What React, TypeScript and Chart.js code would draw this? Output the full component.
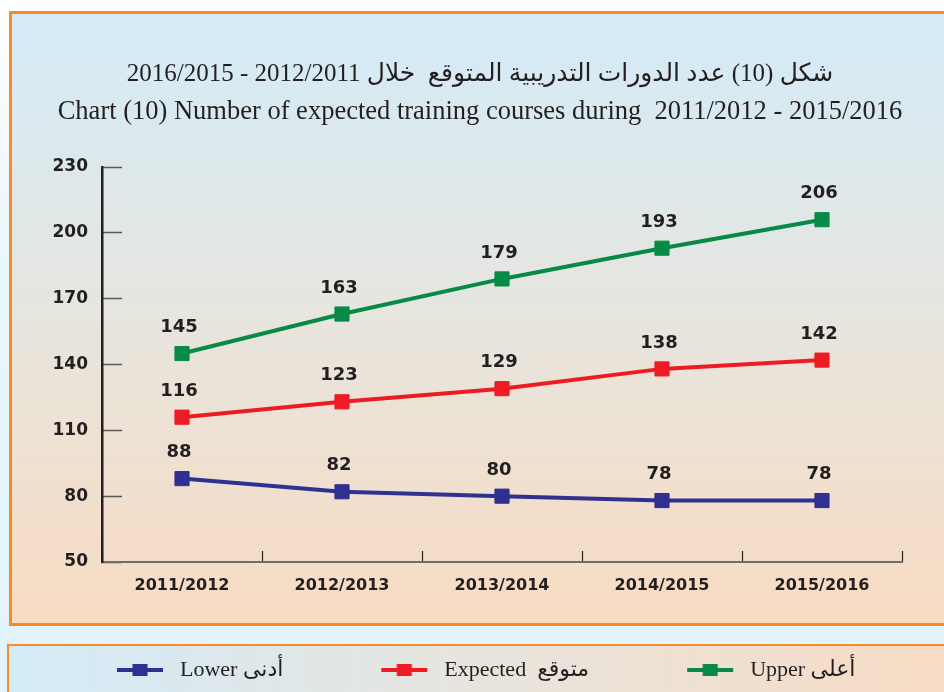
import { useEffect, useRef } from "react";
import { Chart, registerables } from "chart.js";

Chart.register(...registerables);

const categories = ["2011/2012", "2012/2013", "2013/2014", "2014/2015", "2015/2016"];
const lowerValues = [88, 82, 80, 78, 78];
const expectedValues = [116, 123, 129, 138, 142];
const upperValues = [145, 163, 179, 193, 206];
const seriesNames = ["Lower أدنى", "Expected  متوقع", "Upper أعلى"];
const seriesColors = ["#2e3192", "#ed1c24", "#078a45"];
const yTickMin = 50;
const yTickMax = 230;
const yTickStep = 30;
const titleArabic = "2016/2015 - 2012/2011 " + "شكل (10) عدد الدورات التدريبية المتوقع  خلال";
const titleEnglish = "Chart (10) Number of expected training courses during  2011/2012 - 2015/2016";

const INK = "#231f20";

function makeMarker(color: string): HTMLCanvasElement {
  const c = document.createElement("canvas");
  c.width = 140;
  c.height = 16;
  const g = c.getContext("2d")!;
  g.fillStyle = color;
  g.fillRect(88, 6, 46, 4);
  g.fillRect(103.5, 2, 15, 12);
  return c;
}

const valueLabels = {
  id: "valueLabels",
  afterDatasetsDraw(chart: any) {
    const ctx = chart.ctx;
    ctx.save();
    ctx.font = 'bold 18px "DejaVu Sans"';
    ctx.fillStyle = INK;
    ctx.textAlign = "center";
    ctx.textBaseline = "middle";
    chart.data.datasets.forEach((ds: any, i: number) => {
      const meta = chart.getDatasetMeta(i);
      meta.data.forEach((pt: any, j: number) => {
        ctx.fillText(String(ds.data[j]), pt.x - 3, pt.y - 26);
      });
    });
    ctx.restore();
  },
};

export default function App() {
  const ref = useRef<HTMLCanvasElement | null>(null);

  useEffect(() => {
    if (!ref.current) return;
    const markers = seriesColors.map((c) => makeMarker(c));
    const values = [lowerValues, expectedValues, upperValues];
    const chart = new Chart(ref.current, {
      type: "line",
      data: {
        labels: categories,
        datasets: values.map((v, i) => ({
          label: seriesNames[i],
          data: v,
          borderColor: seriesColors[i],
          backgroundColor: seriesColors[i],
          pointBackgroundColor: seriesColors[i],
          pointBorderColor: seriesColors[i],
          pointBorderWidth: 1,
          pointStyle: "rect",
          pointRadius: 10,
          borderWidth: 4,
          tension: 0,
          fill: false,
          yAxisID: "y",
        })),
      },
      plugins: [valueLabels],
      options: {
        animation: false,
        responsive: false,
        maintainAspectRatio: false,
        devicePixelRatio: 1,
        layout: { padding: { left: 19, right: 3, top: 0, bottom: 3 } },
        plugins: {
          tooltip: { enabled: false },
          title: {
            display: true,
            text: titleArabic,
            color: INK,
            font: { family: '"Liberation Serif", "DejaVu Sans"', size: 25, weight: "normal", lineHeight: 1.2 },
            padding: { top: 59.6, bottom: 0 },
          },
          subtitle: {
            display: true,
            text: titleEnglish,
            color: INK,
            font: { family: '"Liberation Serif"', size: 26.5, weight: "normal", lineHeight: 1.2 },
            padding: { top: 6.5, bottom: 39.1 },
          },
          legend: {
            display: true,
            position: "bottom",
            align: "start",
            maxHeight: 40,
            labels: {
              color: INK,
              font: { family: '"Liberation Serif", "DejaVu Sans"', size: 22 },
              usePointStyle: true,
              pointStyleWidth: 140,
              padding: 10,
              generateLabels(chart: any) {
                return chart.data.datasets.map((ds: any, i: number) => ({
                  text: ds.label,
                  fillStyle: ds.borderColor,
                  strokeStyle: ds.borderColor,
                  lineWidth: 0,
                  pointStyle: markers[i],
                  hidden: false,
                  datasetIndex: i,
                  fontColor: INK,
                }));
              },
            },
          },
        },
        scales: {
          x: {
            type: "category",
            offset: true,
            grid: { drawOnChartArea: false, offset: true, tickLength: -11, tickColor: INK, tickWidth: 1.2 },
            border: { color: "#6d6e71", width: 2 },
            ticks: {
              padding: 24.8,
              color: INK,
              font: { family: '"DejaVu Sans"', weight: "bold", size: 16 },
              maxRotation: 0,
            },
            afterFit(s: any) {
              s.height = 87;
            },
          },
          y: {
            type: "linear",
            position: "left",
            min: yTickMin,
            max: yTickMax,
            ticks: {
              stepSize: yTickStep,
              padding: 34,
              color: INK,
              font: { family: '"DejaVu Sans"', weight: "bold", size: 17 },
            },
            grid: { drawOnChartArea: false, tickLength: -20, tickColor: "#58595b", tickWidth: 1.5 },
            border: { color: INK, width: 2.5 },
            afterFit(s: any) {
              s.width = 83;
            },
          },
          yR: {
            type: "linear",
            position: "right",
            display: true,
            grid: { display: false },
            border: { display: false },
            ticks: { display: false },
            afterFit(s: any) {
              s.width = 39;
            },
          },
        },
      } as any,
    });
    return () => chart.destroy();
  }, []);

  return (
    <div
      style={{
        position: "fixed",
        left: 0,
        top: 0,
        width: 944,
        height: 692,
        overflow: "hidden",
        background: "linear-gradient(to bottom, #ffffff 0%, #e8f6fc 40%, #e2f3fb 100%)",
      }}
    >
      <div
        style={{
          position: "absolute",
          left: 9,
          top: 11,
          width: 960,
          height: 609,
          border: "3px solid #f68b28",
          background: "linear-gradient(to bottom, #d4ebf8 0%, #e5e6e1 45%, #f8dbc2 100%)",
        }}
      />
      <div
        style={{
          position: "absolute",
          left: 7,
          top: 644,
          width: 960,
          height: 60,
          border: "2px solid #f68b28",
          background: "linear-gradient(to right, #d3ebf8 0%, #e6e5df 45%, #f8dbc3 100%)",
        }}
      />
      <canvas
        ref={ref}
        width={944}
        height={692}
        style={{ position: "absolute", left: 0, top: 0, width: 944, height: 692 }}
      />
    </div>
  );
}
